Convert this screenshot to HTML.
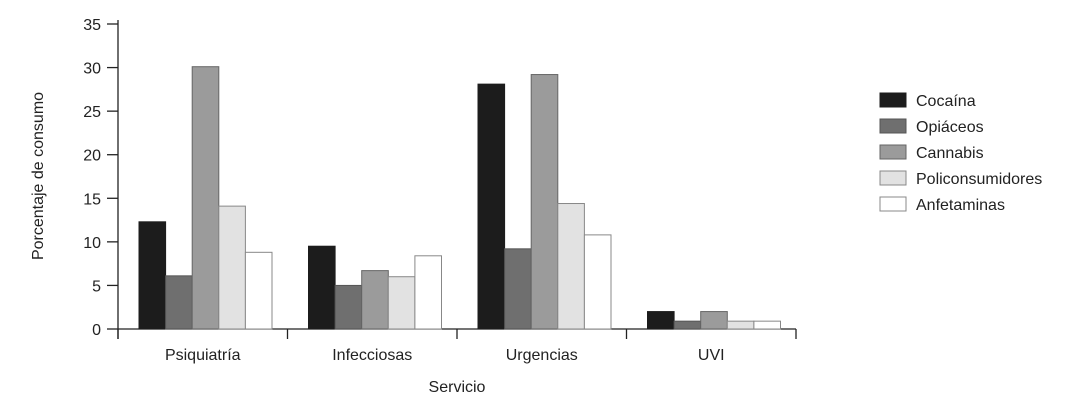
<!DOCTYPE html>
<html><head><meta charset="utf-8"><style>
body{margin:0;background:#fff}
svg text{font-family:"Liberation Sans",Arial,sans-serif;fill:#222}
</style></head><body>
<svg id="chart" width="1091" height="407" xmlns="http://www.w3.org/2000/svg"></svg>
<script>
const categories=["Psiquiatría","Infecciosas","Urgencias","UVI"];
const seriesNames=["Cocaína","Opiáceos","Cannabis","Policonsumidores","Anfetaminas"];
const cocaina=[12.3,9.5,28.1,2.0];
const opiaceos=[6.1,5.0,9.2,0.9];
const cannabis=[30.1,6.7,29.2,2.0];
const policonsumidores=[14.1,6.0,14.4,0.9];
const anfetaminas=[8.8,8.4,10.8,0.9];
const yTicks=[0,5,10,15,20,25,30,35];
const series=[cocaina,opiaceos,cannabis,policonsumidores,anfetaminas];
const fills=["#1c1c1c","#6f6f6f","#9b9b9b","#e2e2e2","#ffffff"];
const strokes=["#1c1c1c","#555","#666","#888","#888"];
const NS="http://www.w3.org/2000/svg",svg=document.getElementById('chart');
const x0=118,x1=796,y0=329,yTop=24,yMax=35;
const y=v=>y0-(v/yMax)*(y0-yTop);
const gw=(x1-x0)/categories.length;
const bx=(g,s)=>x0+g*gw+21+s*26.6;
function mk(t,a){const e=document.createElementNS(NS,t);for(const k in a)e.setAttribute(k,a[k]);svg.appendChild(e);return e;}
let e;
e=mk('line',{x1:x0,y1:yTop-4,x2:x0,y2:y0+10,stroke:'#222','stroke-width':1.3});

e=mk('line',{x1:x0,y1:y0,x2:x1,y2:y0,stroke:'#222','stroke-width':1.3});

yTicks.forEach(t=>{
 e=mk('line',{x1:107,y1:y(t),x2:x0,y2:y(t),stroke:'#222','stroke-width':1.3});
 
 e=mk('text',{x:101,y:y(t)+6,'text-anchor':'end','font-size':16});e.textContent=t;
 
});
for(let g=0;g<=categories.length;g++){
 e=mk('line',{x1:x0+g*gw,y1:y0,x2:x0+g*gw,y2:y0+10,stroke:'#222','stroke-width':1.3});
 
}
categories.forEach((c,g)=>{
 e=mk('text',{x:x0+g*gw+gw/2,y:360,'text-anchor':'middle','font-size':16});e.textContent=c;
 
 series.forEach((s,i)=>{
  e=mk('rect',{x:bx(g,i),y:y(s[g]),width:26.6,height:y0-y(s[g]),fill:fills[i],stroke:strokes[i],'stroke-width':1});
  
 });
});
e=mk('text',{x:457,y:392,'text-anchor':'middle','font-size':16});e.textContent='Servicio';

e=mk('text',{x:43,y:176,'text-anchor':'middle','font-size':16,transform:'rotate(-90 43 176)'});e.textContent='Porcentaje de consumo';

seriesNames.forEach((n,i)=>{
 const ly=93+i*26;
 e=mk('rect',{x:880,y:ly,width:26,height:14,fill:fills[i],stroke:strokes[i],'stroke-width':1});
 
 e=mk('text',{x:916,y:ly+13,'font-size':16});e.textContent=n;
 
});
</script>
</body></html>
